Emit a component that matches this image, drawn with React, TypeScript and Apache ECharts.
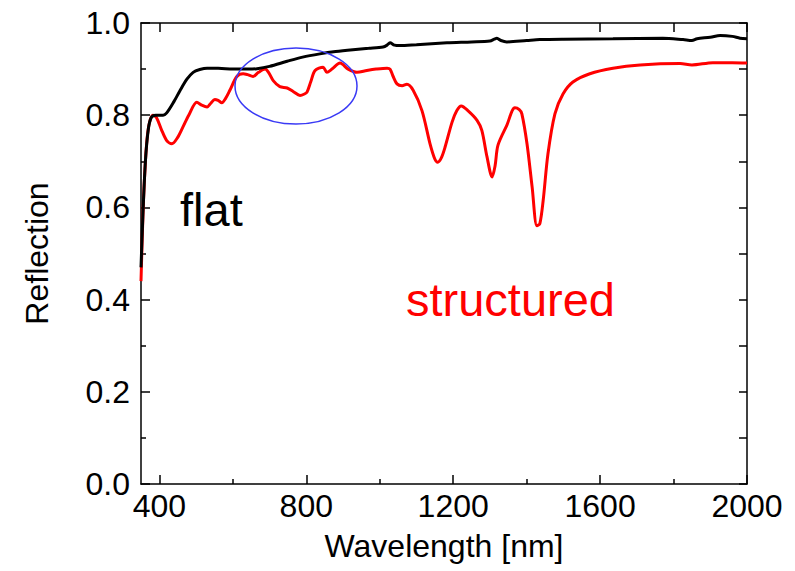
import React, { useEffect, useRef } from "react";
import * as echarts from "echarts";

const FONT = "'Liberation Sans', Arial, Helvetica, sans-serif";

// flat sample: wavelength [nm] and reflection
const flatWl = [350, 355, 362, 370, 378, 390, 410, 420, 440, 456, 475, 492, 510, 530, 560, 600, 640, 666, 700, 748, 790, 837, 880, 927, 970, 1009, 1020, 1028, 1040, 1055, 1100, 1183, 1250, 1300, 1312, 1319, 1330, 1346, 1400, 1436, 1500, 1635, 1771, 1826, 1850, 1864, 1900, 1927, 1960, 1981, 2000];
const flatR = [0.47, 0.58, 0.7, 0.77, 0.795, 0.8, 0.8, 0.805, 0.83, 0.853, 0.878, 0.893, 0.899, 0.902, 0.902, 0.9, 0.9, 0.901, 0.906, 0.917, 0.926, 0.933, 0.938, 0.942, 0.945, 0.948, 0.952, 0.957, 0.952, 0.951, 0.953, 0.957, 0.959, 0.961, 0.965, 0.967, 0.962, 0.959, 0.962, 0.964, 0.965, 0.966, 0.967, 0.964, 0.962, 0.966, 0.969, 0.973, 0.971, 0.967, 0.966];

// structured sample
const strWl = [350, 356, 362, 368, 375, 383, 392, 405, 420, 434, 450, 464, 480, 502, 515, 530, 540, 551, 560, 570, 580, 592, 611, 628, 640, 655, 670, 688, 698, 710, 728, 748, 765, 783, 795, 802, 812, 824, 846, 856, 870, 892, 914, 938, 965, 990, 1020, 1028, 1036, 1047, 1061, 1074, 1091, 1115, 1137, 1150, 1158, 1168, 1178, 1197, 1210, 1222, 1240, 1265, 1278, 1292, 1306, 1314, 1322, 1346, 1368, 1380, 1387, 1401, 1415, 1428, 1436, 1445, 1458, 1477, 1499, 1526, 1572, 1635, 1709, 1818, 1850, 1907, 1960, 2000];
const strR = [0.44, 0.6, 0.7, 0.76, 0.79, 0.8, 0.795, 0.77, 0.745, 0.738, 0.752, 0.774, 0.8, 0.828, 0.822, 0.818, 0.826, 0.834, 0.832, 0.827, 0.836, 0.854, 0.884, 0.89, 0.888, 0.884, 0.893, 0.9, 0.892, 0.875, 0.862, 0.859, 0.851, 0.843, 0.846, 0.85, 0.872, 0.897, 0.904, 0.893, 0.9, 0.913, 0.9, 0.893, 0.897, 0.9, 0.902, 0.9, 0.885, 0.868, 0.864, 0.867, 0.854, 0.81, 0.738, 0.705, 0.698, 0.708, 0.731, 0.785, 0.81, 0.82, 0.81, 0.789, 0.767, 0.71, 0.666, 0.69, 0.735, 0.778, 0.816, 0.812, 0.803, 0.738, 0.644, 0.56, 0.565, 0.615, 0.716, 0.803, 0.846, 0.872, 0.89, 0.902, 0.909, 0.912, 0.909, 0.914, 0.914, 0.913];

const xMajorTicks = [400, 800, 1200, 1600, 2000];
const xMinorTicks = [600, 1000, 1400, 1800];
const xTopTicks = [400, 600, 800, 1000, 1200, 1400, 1600, 1800, 2000];
const X_MIN = 350;
const X_MAX = 2000;

export default function App() {
  const ref = useRef<HTMLDivElement>(null);
  useEffect(() => {
    if (!ref.current) return;
    const chart = echarts.init(ref.current, null, { renderer: "svg" });
    const line = { color: "#000", width: 1.5 };
    const flatData = flatWl.map((w, i) => [w, flatR[i]]);
    const strData = strWl.map((w, i) => [w, strR[i]]);
    chart.setOption({
      animation: false,
      backgroundColor: "#fff",
      textStyle: { fontFamily: FONT },
      grid: { left: 141, right: 48, top: 23, bottom: 87, containLabel: false },
      xAxis: [
        {
          type: "value", position: "bottom", min: X_MIN, max: X_MAX,
          axisLine: { show: true, lineStyle: line },
          axisTick: { show: true, inside: true, length: 9, customValues: xMajorTicks, lineStyle: line },
          axisLabel: { customValues: xMajorTicks, fontSize: 32, color: "#000", margin: 6, fontFamily: FONT, formatter: (v: number) => String(v) },
          splitLine: { show: false },
          name: "Wavelength [nm]", nameLocation: "middle", nameGap: 46,
          nameTextStyle: { fontSize: 32, color: "#000", fontFamily: FONT },
        },
        {
          type: "value", position: "bottom", min: X_MIN, max: X_MAX,
          axisLine: { show: false },
          axisTick: { show: true, inside: true, length: 5, customValues: xMinorTicks, lineStyle: line },
          axisLabel: { show: false },
          splitLine: { show: false },
        },
        {
          type: "value", position: "top", min: X_MIN, max: X_MAX,
          axisLine: { show: true, lineStyle: line },
          axisTick: { show: true, inside: true, length: 9, customValues: xTopTicks, lineStyle: line },
          axisLabel: { show: false },
          splitLine: { show: false },
        },
      ],
      yAxis: [
        {
          type: "value", position: "left", min: 0, max: 1, interval: 0.2,
          axisLine: { show: true, lineStyle: line },
          axisTick: { show: true, inside: true, length: 9, lineStyle: line },
          minorTick: { show: true, splitNumber: 2, length: 5, lineStyle: line },
          axisLabel: { fontSize: 32, color: "#000", margin: 11, fontFamily: FONT, formatter: (v: number) => v.toFixed(1) },
          splitLine: { show: false },
          minorSplitLine: { show: false },
          name: "Reflection", nameLocation: "middle", nameGap: 88, nameRotate: 90,
          nameTextStyle: { fontSize: 32, color: "#000", fontFamily: FONT },
        },
        {
          type: "value", position: "right", min: 0, max: 1, interval: 0.1,
          axisLine: { show: true, lineStyle: line },
          axisTick: { show: true, inside: true, length: 8, lineStyle: line },
          axisLabel: { show: false },
          splitLine: { show: false },
        },
      ],
      series: [
        {
          name: "flat", type: "line", data: flatData, showSymbol: false, smooth: 0.3,
          lineStyle: { color: "#000", width: 3 }, z: 3,
        },
        {
          name: "structured", type: "line", data: strData, showSymbol: false, smooth: 0.3,
          lineStyle: { color: "#ff0000", width: 3 }, z: 2,
        },
      ],
      graphic: [
        {
          type: "ellipse", shape: { cx: 296, cy: 86, rx: 61, ry: 38 },
          style: { fill: "none", stroke: "#3a3af5", lineWidth: 1.5 }, z: 10,
        },
        {
          type: "text", left: 180, top: 186,
          style: { text: "flat", fontSize: 47, fill: "#000", fontFamily: FONT },
        },
        {
          type: "text", left: 406, top: 276,
          style: { text: "structured", fontSize: 47, fill: "#ff0000", fontFamily: FONT },
        },
      ],
    });
    return () => chart.dispose();
  }, []);
  return <div ref={ref} style={{ position: "fixed", left: 0, top: 0, width: 795, height: 571 }} />;
}
